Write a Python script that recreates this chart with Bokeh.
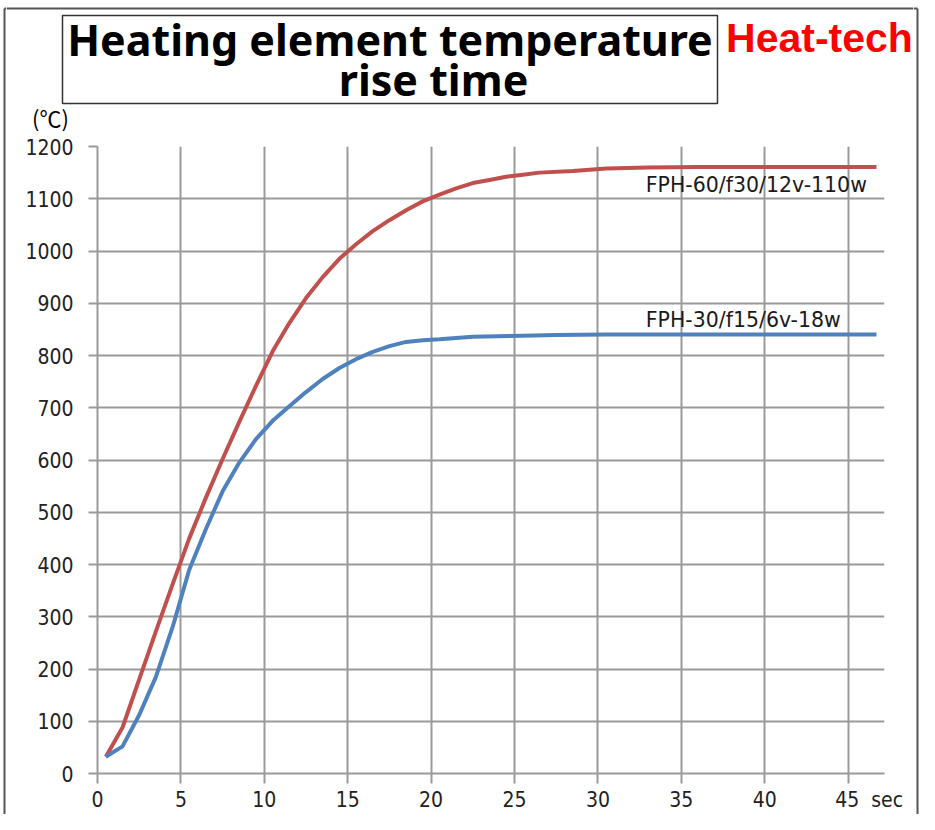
from bokeh.plotting import figure
from bokeh.models import Label, FixedTicker, Range1d
from bokeh.layouts import column, row
from bokeh.embed import file_html
from bokeh.resources import INLINE

# ---- data ----
time_red = [0.5, 1.5, 2.5, 3.5, 4.5, 5.5, 6.5, 7.5, 8.5, 9.5, 10.5, 11.5, 12.5, 13.5,
            14.5, 15.5, 16.5, 17.5, 18.5, 19.5, 20.5, 21.5, 22.5, 23.5, 24.5, 25.5,
            26.5, 28.5, 30.5, 33.0, 36.0, 46.7]
temp_red = [32, 88, 180, 272, 362, 450, 528, 602, 673, 742, 808, 862, 910, 950,
            985, 1013, 1038, 1059, 1078, 1095, 1108, 1120, 1130, 1136, 1142, 1146,
            1150, 1153, 1158, 1160, 1161, 1161]

time_blue = [0.5, 1.5, 2.5, 3.5, 4.5, 5.5, 6.5, 7.5, 8.5, 9.5, 10.5, 11.5, 12.5,
             13.5, 14.5, 15.5, 16.5, 17.5, 18.5, 19.5, 20.5, 22.5, 25.5, 27.5, 30.5, 46.7]
temp_blue = [32, 52, 112, 185, 280, 390, 468, 540, 595, 640, 675, 703, 730,
             755, 776, 793, 807, 818, 826, 829, 831, 836, 838, 839, 840, 840]

series_names = ["FPH-60/f30/12v-110w", "FPH-30/f15/6v-18w"]
series_colors = ["#C0504D", "#4F81BD"]
x_ticks = [0, 5, 10, 15, 20, 25, 30, 35, 40, 45]
y_ticks = [0, 100, 200, 300, 400, 500, 600, 700, 800, 900, 1000, 1100, 1200]
title_lines = ["Heating element temperature", "rise time"]
brand = "Heat-tech"
y_unit = "(\u2103)"
x_unit = "sec"

W, H = 919, 814
HEAD_H = 133
STRIP_W = 6
INNER_W = W - 2 * STRIP_W
GRID = "#9a9a9a"
FRAME = "#555555"
TICK_FONT = "DejaVu Sans Condensed, DejaVu Sans"


def bare(width, height, xr, yr):
    f = figure(width=width, height=height, output_backend="svg", toolbar_location=None,
               x_range=Range1d(*xr), y_range=Range1d(*yr),
               x_axis_type=None, y_axis_type=None,
               min_border_left=0, min_border_right=0, min_border_top=0, min_border_bottom=0)
    f.outline_line_color = None
    f.background_fill_color = "white"
    f.border_fill_color = "white"
    return f


def base_y(baseline, size):
    # Bokeh's alphabetic anchor sits ~0.4 em above the drawn baseline
    return baseline - 0.4 * size


# ---- outer frame strips (pixel coordinates, y down) ----
left_strip = bare(STRIP_W, H, (0, STRIP_W), (H, 0))
left_strip.segment(x0=[4, 4], y0=[8, 8], x1=[4, STRIP_W], y1=[H, 8],
                   line_color=FRAME, line_width=2)
right_strip = bare(STRIP_W, H, (0, STRIP_W), (H, 0))
right_strip.segment(x0=[4, 0], y0=[8, 8], x1=[4, 4], y1=[H, 8],
                    line_color=FRAME, line_width=2)

# ---- header: title box, brand, unit (pixel coordinates, y down) ----
head = bare(INNER_W, HEAD_H, (0, INNER_W), (HEAD_H, 0))
head.segment(x0=[0], y0=[8], x1=[INNER_W], y1=[8], line_color=FRAME, line_width=2)
head.quad(left=56, right=711, top=15, bottom=103, fill_color=None,
          line_color="#333333", line_width=1.5)
head.add_layout(Label(x=383.5, y=base_y(56, 43), text=title_lines[0], text_align="center",
                      text_baseline="alphabetic", text_font="Noto Sans",
                      text_font_style="bold", text_font_size="43px", text_color="black"))
head.add_layout(Label(x=427, y=base_y(96.5, 43), text=title_lines[1], text_align="center",
                      text_baseline="alphabetic", text_font="Noto Sans",
                      text_font_style="bold", text_font_size="43px", text_color="black"))
head.add_layout(Label(x=813, y=base_y(53.5, 41), text=brand, text_align="center",
                      text_baseline="alphabetic", text_font="Liberation Sans",
                      text_font_style="bold", text_font_size="41px", text_color="#FF0000"))
head.add_layout(Label(x=44, y=116, text=y_unit, text_align="center",
                      text_baseline="middle", text_font="Noto Sans CJK JP",
                      text_font_size="22px", text_color="black"))

# ---- main chart ----
MAIN_H = H - HEAD_H
p = figure(width=INNER_W, height=MAIN_H, output_backend="svg", toolbar_location=None,
           x_range=Range1d(0, 47.18), y_range=Range1d(0, 1200),
           min_border_left=91, min_border_right=29, min_border_top=13,
           min_border_bottom=39)
p.outline_line_color = None
p.background_fill_color = "white"
p.border_fill_color = "white"

for ax, ticks, tout, standoff in ((p.xaxis, x_ticks, 10, 4), (p.yaxis, y_ticks, 9, 15)):
    ax.ticker = FixedTicker(ticks=ticks)
    ax.axis_line_color = GRID
    ax.axis_line_width = 2
    ax.major_tick_line_color = GRID
    ax.major_tick_line_width = 2
    ax.major_tick_out = tout
    ax.major_tick_in = 0
    ax.minor_tick_line_color = None
    ax.major_label_standoff = standoff
    ax.major_label_text_font = TICK_FONT
    ax.major_label_text_font_size = "21px"
    ax.major_label_text_color = "#222222"

NB = "\u00a0"
p.xaxis.major_label_overrides = {45: NB * 7 + "45" + NB * 2 + x_unit}

p.xgrid.ticker = FixedTicker(ticks=x_ticks)
p.ygrid.ticker = FixedTicker(ticks=y_ticks)
for g in (p.xgrid, p.ygrid):
    g.grid_line_color = GRID
    g.grid_line_width = 2

p.line(time_red, temp_red, line_color=series_colors[0], line_width=4)
p.line(time_blue, temp_blue, line_color=series_colors[1], line_width=4)

p.add_layout(Label(x=32.87, y=1126, text=series_names[0], text_font="DejaVu Sans",
                   text_font_size="20.5px", text_baseline="alphabetic", text_color="#1a1a1a"))
p.add_layout(Label(x=32.87, y=868.6, text=series_names[1], text_font="DejaVu Sans",
                   text_font_size="20.5px", text_baseline="alphabetic", text_color="#1a1a1a"))

# nesting keeps Bokeh from aligning the header frame with the chart frame
layout = row(left_strip, column(row(head), row(p)), right_strip)
open("out.html", "w").write(file_html(layout, INLINE))
